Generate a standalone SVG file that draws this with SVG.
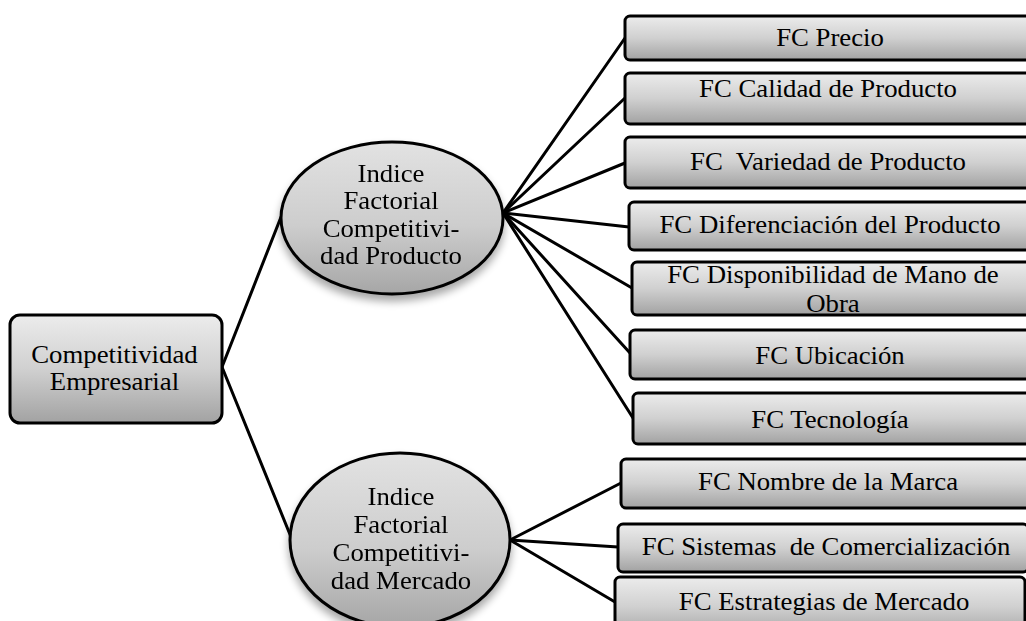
<svg xmlns="http://www.w3.org/2000/svg" width="1026" height="621" viewBox="0 0 1026 621">
<defs>
<linearGradient id="gBox" x1="0" y1="0" x2="0" y2="1">
<stop offset="0" stop-color="#ececec"/>
<stop offset="0.5" stop-color="#d0d0d0"/>
<stop offset="1" stop-color="#a2a2a2"/>
</linearGradient>
<linearGradient id="gEll" x1="0" y1="0" x2="0" y2="1">
<stop offset="0" stop-color="#e2e2e2"/>
<stop offset="0.55" stop-color="#cdcdcd"/>
<stop offset="1" stop-color="#a6a6a6"/>
</linearGradient>
<filter id="sh" x="-20%" y="-20%" width="140%" height="150%">
<feGaussianBlur in="SourceAlpha" stdDeviation="4"/>
<feOffset dx="0" dy="6" result="b"/>
<feComponentTransfer><feFuncA type="linear" slope="0.35"/></feComponentTransfer>
<feMerge><feMergeNode/><feMergeNode in="SourceGraphic"/></feMerge>
</filter>
</defs>
<style>
.box{fill:url(#gBox);stroke:#000;stroke-width:3}
.ell{fill:url(#gEll);stroke:#000;stroke-width:3}
.t{font-family:"Liberation Serif","Times New Roman",serif;font-size:25.5px;fill:#000;text-anchor:middle}
.c{stroke:#000;stroke-width:3;fill:none;stroke-linecap:round}
</style>
<rect width="1026" height="621" fill="#fff"/>
<g id="connectors">
<line class="c" x1="222" y1="367" x2="281" y2="217"/>
<line class="c" x1="222" y1="367" x2="291" y2="537"/>
<line class="c" x1="503" y1="213" x2="625" y2="38"/>
<line class="c" x1="503" y1="213" x2="625" y2="98"/>
<line class="c" x1="503" y1="213" x2="625" y2="163"/>
<line class="c" x1="503" y1="213" x2="629" y2="227"/>
<line class="c" x1="503" y1="213" x2="632" y2="288"/>
<line class="c" x1="503" y1="213" x2="630" y2="353"/>
<line class="c" x1="503" y1="213" x2="633" y2="418"/>
<line class="c" x1="510" y1="540" x2="621" y2="483"/>
<line class="c" x1="510" y1="540" x2="618" y2="547"/>
<line class="c" x1="510" y1="540" x2="615" y2="602"/>
</g>
<g id="root">
<rect class="box" x="10" y="315" width="212" height="108" rx="10"/>
<text class="t" transform="scale(1.05 1)" x="109" y="363">Competitividad</text>
<text class="t" transform="scale(1.05 1)" x="109" y="390">Empresarial</text>
</g>
<g id="ifc-producto" filter="url(#sh)">
<ellipse class="ell" cx="392" cy="218" rx="111" ry="76"/>
<text class="t" transform="scale(1.05 1)" x="372.4" y="182">Indice</text>
<text class="t" transform="scale(1.05 1)" x="372.4" y="209">Factorial</text>
<text class="t" transform="scale(1.05 1)" x="372.4" y="237">Competitivi-</text>
<text class="t" transform="scale(1.05 1)" x="372.4" y="264">dad Producto</text>
</g>
<g id="ifc-mercado" filter="url(#sh)">
<ellipse class="ell" cx="400" cy="540" rx="110" ry="87"/>
<text class="t" transform="scale(1.05 1)" x="381.9" y="505">Indice</text>
<text class="t" transform="scale(1.05 1)" x="381.9" y="533">Factorial</text>
<text class="t" transform="scale(1.05 1)" x="381.9" y="561">Competitivi-</text>
<text class="t" transform="scale(1.05 1)" x="381.9" y="589">dad Mercado</text>
</g>
<g id="fc-precio">
<rect class="box" x="625" y="16" width="410" height="44" rx="5"/>
<text class="t" transform="scale(1.05 1)" x="790.5" y="46">FC Precio</text>
</g>
<g id="fc-calidad">
<rect class="box" x="625" y="73" width="410" height="51" rx="5"/>
<text class="t" transform="scale(1.05 1)" x="788.6" y="97">FC Calidad de Producto</text>
</g>
<g id="fc-variedad">
<rect class="box" x="625" y="137" width="410" height="51" rx="5"/>
<text class="t" transform="scale(1.05 1)" x="788.6" y="170" xml:space="preserve">FC  Variedad de Producto</text>
</g>
<g id="fc-diferenciacion">
<rect class="box" x="629" y="202" width="410" height="48" rx="5"/>
<text class="t" transform="scale(1.05 1)" x="790.5" y="233">FC Diferenciación del Producto</text>
</g>
<g id="fc-disponibilidad">
<rect class="box" x="632" y="262" width="410" height="53" rx="5"/>
<text class="t" transform="scale(1.05 1)" x="793.3" y="283">FC Disponibilidad de Mano de</text>
<text class="t" transform="scale(1.05 1)" x="793.3" y="312">Obra</text>
</g>
<g id="fc-ubicacion">
<rect class="box" x="630" y="330" width="410" height="49" rx="5"/>
<text class="t" transform="scale(1.05 1)" x="790.5" y="364">FC Ubicación</text>
</g>
<g id="fc-tecnologia">
<rect class="box" x="633" y="393" width="410" height="51" rx="5"/>
<text class="t" transform="scale(1.05 1)" x="790.5" y="428">FC Tecnología</text>
</g>
<g id="fc-nombre">
<rect class="box" x="621" y="459" width="410" height="49" rx="5"/>
<text class="t" transform="scale(1.05 1)" x="788.6" y="490">FC Nombre de la Marca</text>
</g>
<g id="fc-sistemas">
<rect class="box" x="618" y="524" width="410" height="48" rx="5"/>
<text class="t" transform="scale(1.05 1)" x="786.7" y="555" xml:space="preserve">FC Sistemas  de Comercialización</text>
</g>
<g id="fc-estrategias">
<rect class="box" x="615" y="577" width="410" height="60" rx="5"/>
<text class="t" transform="scale(1.05 1)" x="784.8" y="610">FC Estrategias de Mercado</text>
</g>
</svg>
